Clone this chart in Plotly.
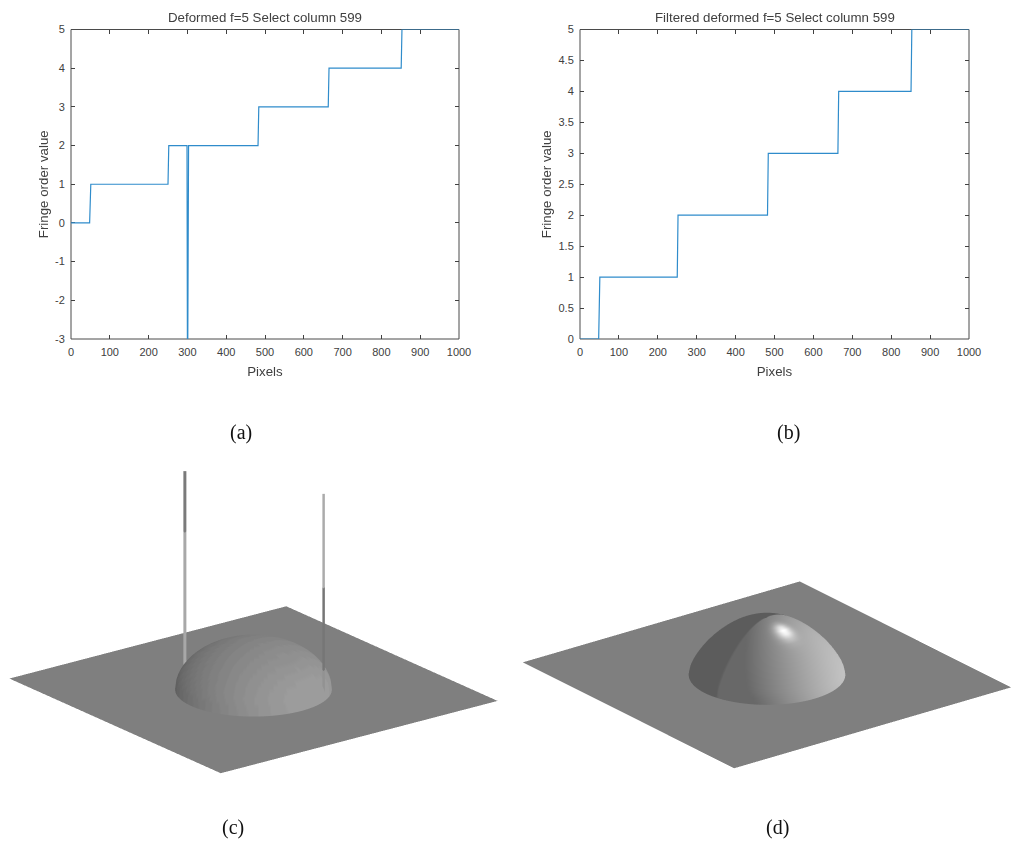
import numpy as np
import plotly.graph_objects as go

W, H = 1011, 841

# ---- line data -------------------------------------------------------
x_a = [0, 48, 51, 250, 252, 299, 300, 301, 303, 482, 484, 663, 665, 851, 853, 1000]
y_a = [0, 0, 1, 1, 2, 2, -3, -3, 2, 2, 3, 3, 4, 4, 5, 5]
x_b = [0, 48, 51, 250, 252, 482, 484, 663, 665, 851, 853, 1000]
y_b = [0, 0, 1, 1, 2, 2, 3, 3, 4, 4, 5, 5]
x_ticks = [0, 100, 200, 300, 400, 500, 600, 700, 800, 900, 1000]
y_ticks_a = [-3, -2, -1, 0, 1, 2, 3, 4, 5]
y_ticks_b = [0, 0.5, 1, 1.5, 2, 2.5, 3, 3.5, 4, 4.5, 5]
y_text_b = ["0", "0.5", "1", "1.5", "2", "2.5", "3", "3.5", "4", "4.5", "5"]
title_a = "Deformed f=5 Select column 599"
title_b = "Filtered deformed f=5 Select column 599"
captions = ["(a)", "(b)", "(c)", "(d)"]

# ---- surface data ----------------------------------------------------
plane_x = [0, 1000]
plane_y = [0, 1000]
dome_center = [500, 500]
dome_r_c = [0, 15, 30, 45, 60, 75, 90, 105, 120, 135, 150, 165, 175, 185, 195, 205, 212, 218, 222, 225]
dome_h_c = [147, 146.7, 145.7, 144, 141.7, 138.6, 134.7, 130, 124.4, 117.6, 109.6, 100, 92.4, 83.7, 73.3, 60.6, 49.2, 36.4, 23.9, 0]
dome_r_d = [0, 15, 30, 45, 60, 75, 90, 105, 120, 135, 150, 165, 180, 192, 202, 210, 216, 221, 225]
dome_h_d = [178, 177.4, 175.4, 172.2, 167.6, 161.8, 154.7, 146.4, 136.6, 125.4, 112.8, 98.6, 82.6, 67.8, 53.6, 41, 30, 18, 0]
spike_left = dict(x=431, y=734, z=[0, 431, 431, 615])
spike_right = dict(x=608, y=310, z=[0, 92, 92, 344, 344, 629])
spike_left_col = ["#a8a8a8", "#a8a8a8", "#7a7a7a", "#7a7a7a"]
spike_right_col = ["#929292", "#929292", "#767676", "#767676", "#ababab", "#ababab"]
spike_widths = [6, 5]

THETA = np.linspace(0, 2 * np.pi, 241)
AZ = np.array([0.795, -0.607, 0.0])      # screen right
TOWARD = np.array([-0.607, -0.795, 0.0])  # horizontal direction to viewer
UP = np.array([0.0, 0.0, 1.0])
ZOOM = 2.145


def unit(v):
    return v / np.linalg.norm(v)


def dome_mesh(r_list, h_list):
    r = np.array(r_list, float)
    h = np.array(h_list, float)
    slope = np.gradient(h, r)
    slope[-1] = min(slope[-1], -8)
    rr, tt = np.meshgrid(r, THETA, indexing="ij")
    s = np.repeat(slope[:, None], THETA.size, axis=1)
    n = np.stack([-s * np.cos(tt), -s * np.sin(tt), np.ones_like(s)], axis=-1)
    n /= np.linalg.norm(n, axis=-1, keepdims=True)
    X = dome_center[0] + rr * np.cos(tt)
    Y = dome_center[1] + rr * np.sin(tt)
    Z = np.repeat(h[:, None], THETA.size, axis=1)
    return X, Y, Z, n


def shade_c(n):
    l = unit(np.array([0.23, -0.97, 0.3]))
    d = n @ l
    c = 120 + 38 * d
    return np.round(c / 4) * 4


def shade_d(n):
    lt = unit(0.764 * AZ + 0.645 * TOWARD + 0.03 * UP)
    mask = np.clip((n @ lt) / 0.03, 0, 1)
    l2 = unit(AZ + 0.1 * TOWARD + 0.3 * UP)
    lit = 104 + 90 * np.clip(n @ l2, 0, 1)
    c = 92 + (lit - 92) * mask
    ls = unit(0.30 * AZ - 0.50 * TOWARD + 0.75 * UP)
    v = unit(0.93 * TOWARD + 0.375 * UP)
    hv = unit(ls + v)
    spec = np.clip(n @ hv, 0, 1) ** 110
    return np.clip(c + 105 * spec * mask, 0, 255)


FLAT = dict(ambient=1, diffuse=0, specular=0, roughness=1, fresnel=0)
GRAY = [[0, "#000000"], [1, "#ffffff"]]
NOCONT = dict(
    x=dict(show=False, highlight=False),
    y=dict(show=False, highlight=False),
    z=dict(show=False, highlight=False),
)


def surf(X, Y, Z, C, scene):
    return go.Surface(
        x=X, y=Y, z=Z, surfacecolor=C, cmin=0, cmax=255, colorscale=GRAY,
        showscale=False, lighting=FLAT, contours=NOCONT, hoverinfo="skip", scene=scene,
    )


fig = go.Figure()

LINE = dict(color="#2f8ccb", width=1.2)
fig.add_trace(go.Scatter(x=x_a, y=y_a, mode="lines", line=LINE, xaxis="x", yaxis="y", showlegend=False, cliponaxis=False))
fig.add_trace(go.Scatter(x=x_b, y=y_b, mode="lines", line=LINE, xaxis="x2", yaxis="y2", showlegend=False, cliponaxis=False))

plane_z = np.zeros((2, 2))
plane_c = np.full((2, 2), 127.0)

fig.add_trace(surf(plane_x, plane_y, plane_z, plane_c, "scene"))
X, Y, Z, n = dome_mesh(dome_r_c, dome_h_c)
fig.add_trace(surf(X, Y, Z, shade_c(n), "scene"))
for sp, col, wd in ((spike_left, spike_left_col, spike_widths[0]), (spike_right, spike_right_col, spike_widths[1])):
    k = len(sp["z"])
    fig.add_trace(go.Scatter3d(
        x=[sp["x"]] * k, y=[sp["y"]] * k, z=sp["z"], mode="lines",
        line=dict(color=col, width=wd), hoverinfo="skip", showlegend=False, scene="scene",
    ))

fig.add_trace(surf(plane_x, plane_y, plane_z, plane_c, "scene2"))
X, Y, Z, n = dome_mesh(dome_r_d, dome_h_d)
fig.add_trace(surf(X, Y, Z, shade_d(n), "scene2"))

FONT = dict(family="Liberation Sans, Arial, sans-serif", size=11, color="#404040")
BIG = dict(FONT, size=13.3)
HIDDEN = "rgba(0,0,0,0)"


def xaxis(domain, anchor):
    return dict(
        domain=domain, anchor=anchor, range=[0, 1000], tickvals=x_ticks, ticks="inside",
        ticklen=4, tickcolor="#404040", mirror="ticks", showline=True, linecolor=HIDDEN,
        linewidth=1, showgrid=False, zeroline=False, tickfont=FONT, ticklabelstandoff=3,
        layer="below traces", title=dict(text="Pixels", font=BIG, standoff=9),
    )


def yaxis(domain, anchor, rng, vals, text):
    return dict(
        domain=domain, anchor=anchor, range=rng, tickvals=vals, ticktext=text, ticks="inside",
        ticklen=4, tickcolor="#404040", mirror="ticks", showline=True, linecolor=HIDDEN,
        linewidth=1, showgrid=False, zeroline=False, tickfont=FONT, ticklabelstandoff=3,
        layer="below traces", title=dict(text="Fringe order value", font=BIG, standoff=3),
    )


def frame(xr, yr):
    return dict(type="rect", xref=xr + " domain", yref=yr + " domain", x0=0, x1=1, y0=0, y1=1,
                layer="below", line=dict(color="#4a4a4a", width=1), fillcolor=HIDDEN)


def scene(xd, yd, zr, elev):
    cp, sp = np.cos(np.radians(elev)), np.sin(np.radians(elev))
    e = (TOWARD * cp + UP * sp) * 2
    ax = dict(visible=False, showgrid=False, zeroline=False, showbackground=False)
    return dict(
        domain=dict(x=xd, y=yd),
        xaxis=dict(ax, range=[0, 1000]), yaxis=dict(ax, range=[0, 1000]), zaxis=dict(ax, range=zr),
        aspectmode="manual", aspectratio=dict(x=ZOOM, y=ZOOM, z=ZOOM * (zr[1] - zr[0]) / 1000),
        camera=dict(
            eye=dict(x=e[0], y=e[1], z=e[2]), center=dict(x=0, y=0, z=0), up=dict(x=0, y=0, z=1),
            projection=dict(type="orthographic"),
        ),
        bgcolor="rgba(0,0,0,0)",
    )


fig.update_layout(
    width=W, height=H, margin=dict(l=0, r=0, t=0, b=0), paper_bgcolor="white", plot_bgcolor="white",
    template="none", showlegend=False, font=FONT,
    shapes=[frame("x", "y"), frame("x2", "y2")],
    xaxis=xaxis([71 / W, 459 / W], "y"),
    yaxis=yaxis([1 - 339 / H, 1 - 29.5 / H], "x", [-3, 5], y_ticks_a, [str(v) for v in y_ticks_a]),
    xaxis2=xaxis([580 / W, 969 / W], "y2"),
    yaxis2=yaxis([1 - 339 / H, 1 - 29.5 / H], "x2", [0, 5], y_ticks_b, y_text_b),
    scene=scene([0 / W, 507 / W], [1 - 790 / H, 1 - 465 / H], [-250, 630], 20),
    scene2=scene([523 / W, 1.0], [1 - 790 / H, 1 - 465 / H], [-194, 488], 22.5),
    annotations=[
        dict(text=title_a, x=265 / W, y=1 - 18 / H, xref="paper", yref="paper", showarrow=False, font=BIG, xanchor="center", yanchor="middle"),
        dict(text=title_b, x=774.5 / W, y=1 - 18 / H, xref="paper", yref="paper", showarrow=False, font=BIG, xanchor="center", yanchor="middle"),
    ] + [
        dict(text=t, x=px / W, y=1 - py / H, xref="paper", yref="paper", showarrow=False,
             font=dict(family="Liberation Serif, Times New Roman, serif", size=20, color="#111111"),
             xanchor="center", yanchor="middle")
        for t, px, py in zip(captions, [241, 788, 233, 777], [432, 432, 827, 827])
    ],
)

fig.write_html("out.html", post_script="document.body.style.margin='0';", config=dict(displayModeBar=False))
